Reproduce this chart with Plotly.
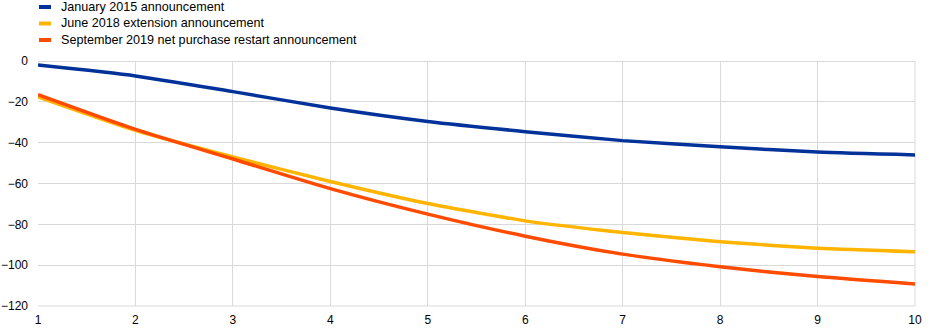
import plotly.graph_objects as go

horizon = [1, 2, 3, 4, 5, 6, 7, 8, 9, 10]
jan2015 = [-2.0, -7.3, -15.0, -23.0, -29.6, -34.6, -39.0, -42.0, -44.6, -46.0]
jun2018 = [-17.6, -34.0, -47.0, -59.0, -69.8, -78.3, -84.0, -88.5, -91.7, -93.4]
sep2019 = [-16.5, -33.5, -48.0, -62.5, -75.0, -85.8, -94.6, -100.8, -105.6, -109.2]

names = ["January 2015 announcement", "June 2018 extension announcement",
         "September 2019 net purchase restart announcement"]
colors = ["#003299", "#FFB400", "#FF4B00"]
series = [jan2015, jun2018, sep2019]

fig = go.Figure()
for nm, col, vals in zip(names, colors, series):
    fig.add_trace(go.Scatter(x=horizon, y=vals, mode="lines", name=nm,
                             line=dict(color=col, width=3.5, shape="spline", smoothing=0.6),
                             showlegend=False))

W, H = 945, 333
ml, mr, mt, mb = 38, 30, 61, 27
pw, ph = W - ml - mr, H - mt - mb
row_y = [7, 23.5, 40]
for nm, col, yy in zip(names, colors, row_y):
    yp = 1 + (mt - yy) / ph
    fig.add_shape(type="line", xref="paper", yref="paper",
                  x0=(39 - ml) / pw, x1=(51 - ml) / pw, y0=yp, y1=yp,
                  line=dict(color=col, width=4))
    fig.add_annotation(xref="paper", yref="paper", x=(58.5 - ml) / pw, y=yp,
                       text=nm, showarrow=False, xanchor="left", yanchor="middle",
                       font=dict(family="Liberation Sans, Arial", size=12.6, color="#000000"))

fig.update_layout(
    width=W, height=H,
    margin=dict(l=ml, r=mr, t=mt, b=mb),
    plot_bgcolor="white", paper_bgcolor="white",
    font=dict(family="Liberation Sans, Arial", size=12, color="#000000"),
    showlegend=False,
)
fig.update_xaxes(range=[1, 10], tickvals=horizon, showgrid=True, gridcolor="#d9d9d9",
                 gridwidth=1, zeroline=False, showline=False, ticks="", ticklabelstandoff=5,
                 automargin=False)
fig.update_yaxes(range=[-120, 0], dtick=20, showgrid=True, gridcolor="#d9d9d9",
                 gridwidth=1, zeroline=True, zerolinecolor="#d9d9d9", zerolinewidth=1,
                 showline=False, ticks="", ticklabelstandoff=9, automargin=False)
fig.add_shape(type="line", xref="paper", yref="paper", x0=0, x1=1, y0=0, y1=0,
              line=dict(color="#d9d9d9", width=1), layer="below")
fig.add_shape(type="line", xref="paper", yref="paper", x0=1, x1=1, y0=0, y1=1,
              line=dict(color="#d9d9d9", width=1), layer="below")

fig.write_html("out.html")
